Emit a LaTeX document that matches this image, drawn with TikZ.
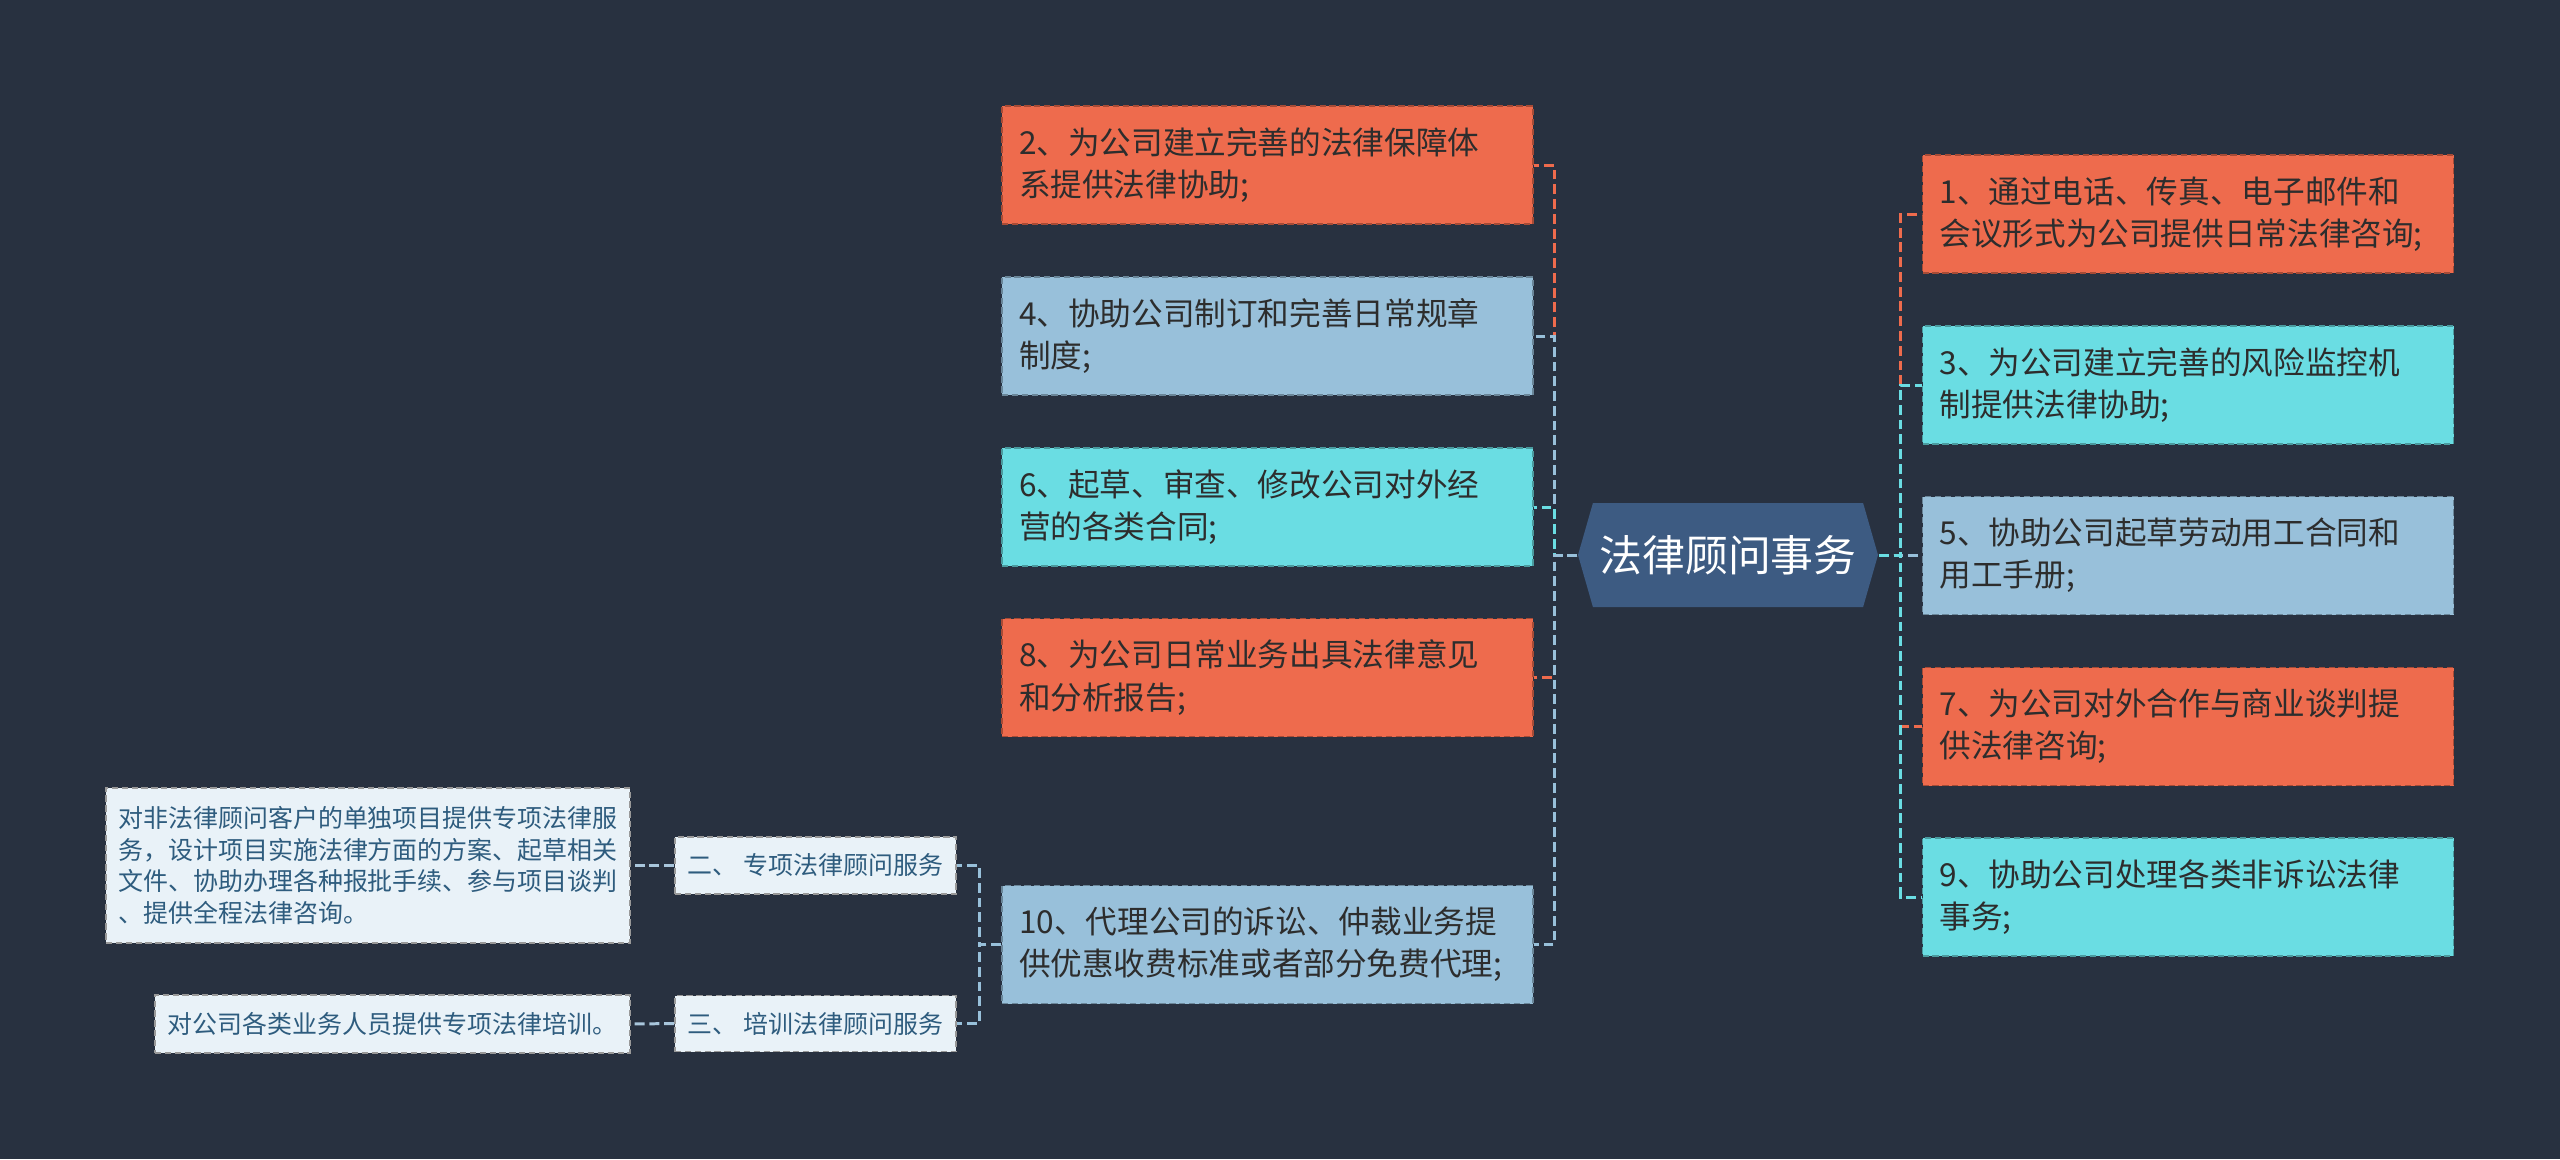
\documentclass[tikz,border=0pt]{standalone}
\usepackage{fontspec}
\usepackage{tikz}
\usetikzlibrary{shapes.symbols}
\newfontfamily\cjk{Noto Sans CJK SC}

\definecolor{bgcol}{RGB}{40,49,64}
\definecolor{orangebox}{RGB}{238,107,77}
\definecolor{bluebox}{RGB}{152,192,218}
\definecolor{cyanbox}{RGB}{106,221,227}
\definecolor{rootcol}{RGB}{61,91,130}
\definecolor{leafbox}{RGB}{233,242,248}
\definecolor{leaftext}{RGB}{46,92,126}
\definecolor{leafline}{RGB}{169,198,220}
\definecolor{boxtext}{RGB}{45,45,45}

\begin{document}
\begin{tikzpicture}[x=1cm, y=-1cm,
    topic/.style={draw=#1!70!black, fill=#1, line width=0.55pt, dash pattern=on 1.8pt off 1pt,
      text=boxtext, font=\cjk\fontsize{9}{12}\selectfont, text width=4.97cm, align=left,
      inner xsep=0.17cm, minimum height=1.18cm},
    service/.style={draw=gray!80, fill=leafbox, line width=0.55pt, dash pattern=on 1.8pt off 1pt,
      text=leaftext, font=\cjk\fontsize{7.1}{9}\selectfont, align=left, inner xsep=0.09cm},
    link/.style={draw=#1, line width=0.85pt, dash pattern=on 2.8pt off 1.4pt}]

    \fill [bgcol] (0, 0) rectangle (25.6, 11.59);
    \useasboundingbox (0, 0) rectangle (25.6, 11.59);

    % centre
    \node [signal, signal to=west and east, signal pointer angle=148, fill=rootcol, text=white,
      font=\cjk\fontsize{12.2}{14}\selectfont, minimum width=3.0cm, minimum height=1.04cm, inner sep=0pt] (root) at (17.28, 5.55) {法律顾问事务};

    % left side
    \node [topic=orangebox] (b2) at (12.675, 1.65) {2、为公司建立完善的法律保障体\\系提供法律协助;};
    \node [topic=bluebox] (b4) at (12.675, 3.36) {4、协助公司制订和完善日常规章\\制度;};
    \node [topic=cyanbox] (b6) at (12.675, 5.07) {6、起草、审查、修改公司对外经\\营的各类合同;};
    \node [topic=orangebox] (b8) at (12.675, 6.775) {8、为公司日常业务出具法律意见\\和分析报告;};
    \node [topic=bluebox] (b10) at (12.675, 9.445) {10、代理公司的诉讼、仲裁业务提\\供优惠收费标准或者部分免费代理;};

    % right side
    \node [topic=orangebox] (r1) at (21.88, 2.14) {1、通过电话、传真、电子邮件和\\会议形式为公司提供日常法律咨询;};
    \node [topic=cyanbox] (r3) at (21.88, 3.85) {3、为公司建立完善的风险监控机\\制提供法律协助;};
    \node [topic=bluebox] (r5) at (21.88, 5.555) {5、协助公司起草劳动用工合同和\\用工手册;};
    \node [topic=orangebox] (r7) at (21.88, 7.265) {7、为公司对外合作与商业谈判提\\供法律咨询;};
    \node [topic=cyanbox] (r9) at (21.88, 8.97) {9、协助公司处理各类非诉讼法律\\事务;};

    % services under item 10
    \node [service, minimum width=2.81cm, minimum height=0.57cm] (s2) at (8.155, 8.655) {二、 专项法律顾问服务};
    \node [service, minimum width=2.81cm, minimum height=0.56cm] (s3) at (8.155, 10.235) {三、 培训法律顾问服务};
    \node [service, minimum width=5.24cm, minimum height=1.55cm] (l2) at (3.68, 8.655) {对非法律顾问客户的单独项目提供专项法律服\\务，设计项目实施法律方面的方案、起草相关\\文件、协助办理各种报批手续、参与项目谈判\\、提供全程法律咨询。};
    \node [service, minimum width=4.75cm, minimum height=0.58cm] (l3) at (3.925, 10.24) {对公司各类业务人员提供专项法律培训。};

    % connectors
    \draw [link=orangebox] (root.west) -- ++(-0.23, 0) |- (b2.east);
    \draw [link=bluebox] (root.west) -- ++(-0.23, 0) |- (b4.east);
    \draw [link=cyanbox] (root.west) -- ++(-0.23, 0) |- (b6.east);
    \draw [link=orangebox] (root.west) -- ++(-0.23, 0) |- (b8.east);
    \draw [link=bluebox] (root.west) -- ++(-0.23, 0) |- (b10.east);

    \draw [link=orangebox] (root.east) -- ++(0.22, 0) |- (r1.west);
    \draw [link=cyanbox] (root.east) -- ++(0.22, 0) |- (r3.west);
    \draw [link=bluebox] (root.east) -- ++(0.22, 0) |- (r5.west);
    \draw [link=orangebox] (root.east) -- ++(0.22, 0) |- (r7.west);
    \draw [link=cyanbox] (root.east) -- ++(0.22, 0) |- (r9.west);

    \draw [link=bluebox] (b10.west) -- ++(-0.22, 0) |- (s2.east);
    \draw [link=bluebox] (b10.west) -- ++(-0.22, 0) |- (s3.east);
    \draw [link=leafline] (s2.west) -- (l2.east);
    \draw [link=leafline] (s3.west) -- (l3.east);
  \end{tikzpicture}
\end{document}
